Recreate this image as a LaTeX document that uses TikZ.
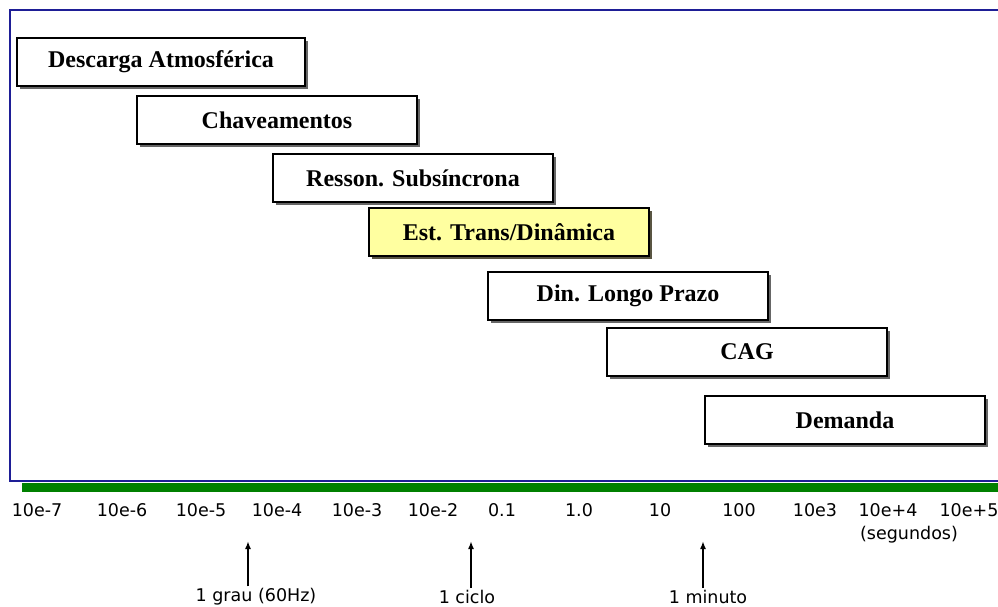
\documentclass[tikz,border=0pt]{standalone}
\usepackage{fontspec}
\setmainfont{Liberation Serif}
\newfontfamily\axisfont{DejaVu Sans}
\usepackage{tikz}
\usetikzlibrary{shadows,arrows.meta}
\definecolor{frameblue}{RGB}{30,30,150}
\definecolor{bargreen}{RGB}{0,128,0}
\definecolor{boxyellow}{RGB}{255,255,160}

\begin{document}
\begin{tikzpicture}[x=1pt,y=-1pt,
    band/.style={draw=black,line width=1.6pt,fill=white,
        minimum width=280pt,minimum height=48pt,inner sep=0pt,
        font=\fontsize{24}{28}\selectfont\bfseries,
        drop shadow={shadow xshift=3pt,shadow yshift=-3pt,fill=black!60,opacity=1}},
    scalelabel/.style={font=\axisfont\fontsize{17.5}{20}\selectfont,inner sep=2pt},
    marker/.style={line width=2.2pt,-{Latex[length=8pt,width=6pt]}}]
    \useasboundingbox (0,0) rectangle (998,606);

    % Frame and time axis
    \draw[frameblue,line width=2.5pt] (998,10) -- (10,10) -- (10,481) -- (998,481);
    \fill[bargreen] (22,483) rectangle (998,492);

    % Phenomena
    \node[band,minimum width=288pt] (descarga) at (161,62) {Descarga Atmosférica};
    \node[band] (chave) at (277,120) {Chaveamentos};
    \node[band] (resson) at (413,178) {Resson. Subsíncrona};
    \node[band,fill=boxyellow,drop shadow={shadow xshift=3pt,shadow yshift=-3pt,fill=black!75!yellow,opacity=1}] (trans) at (509,232) {Est. Trans/Dinâmica};
    \node[band] (longo) at (628,296) {Din. Longo Prazo};
    \node[band] (cag) at (747,352) {CAG};
    \node[band] (demanda) at (845,420) {Demanda};

    % Scale (seconds)
    \foreach \x/\t [count=\i] in {37/10e-7,122/10e-6,201/10e-5,277/10e-4,357/10e-3,433/10e-2,
        502/0.1,579/1.0,660/10,739/100,815/10e3,888/10e+4,969/10e+5}
        \node[scalelabel] (tick\i) at (\x,510) {\t};
    \node[scalelabel] (unit) at (909,535) {(segundos)};

    % Reference times
    \node[scalelabel] (grau) at (256,597) {1 grau (60Hz)};
    \node[scalelabel] (ciclo) at (467,597) {1 ciclo};
    \node[scalelabel] (minuto) at (708,597) {1 minuto};
    \coordinate (tipgrau) at (248,541);
    \coordinate (tipciclo) at (471,541);
    \coordinate (tipminuto) at (703,541);
    \draw[marker] (tipgrau |- grau.north) -- (tipgrau);
    \draw[marker] (tipciclo |- ciclo.north) -- (tipciclo);
    \draw[marker] (tipminuto |- minuto.north) -- (tipminuto);

\end{tikzpicture}
\end{document}
